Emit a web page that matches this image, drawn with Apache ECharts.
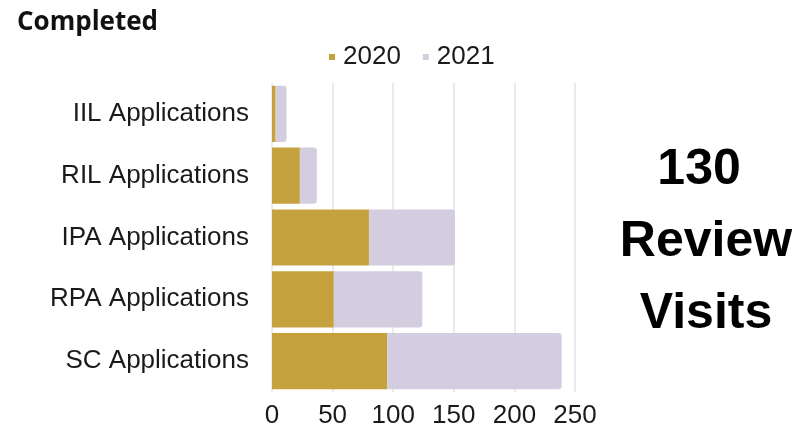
<!DOCTYPE html>
<html>
<head>
<meta charset="utf-8">
<script src="https://cdn.jsdelivr.net/npm/echarts@6/dist/echarts.min.js"></script>
<style>
  html, body { margin: 0; padding: 0; background: #ffffff; }
  #chart { width: 797px; height: 436px; }
</style>
</head>
<body>
<div id="chart"></div>
<script>
// Application counts completed, stacked by year
const categories = ['IIL Applications', 'RIL Applications', 'IPA Applications', 'RPA Applications', 'SC Applications'];
const values2020 = [3, 23, 80, 51, 95];
const values2021 = [9, 14, 71, 73, 144];
const seriesNames = ['2020', '2021'];
const axisTicks = [0, 50, 100, 150, 200, 250];
const reviewVisits = 130;

const chart = echarts.init(document.getElementById('chart'), null, { renderer: 'canvas' });

const labelFont = '"Liberation Sans", Arial, sans-serif';

chart.setOption({
  animation: false,
  backgroundColor: '#ffffff',
  title: {
    text: 'Completed',
    left: 12,
    top: 5,
    textStyle: { fontFamily: '"Open Sans", sans-serif', fontWeight: 'bold', fontSize: 26, color: '#111111' }
  },
  legend: {
    data: seriesNames,
    left: 329,
    top: 44,
    padding: 0,
    icon: 'rect',
    itemWidth: 6,
    itemHeight: 6,
    itemGap: 22,
    textStyle: { fontFamily: labelFont, fontSize: 26, color: '#1a1a1a', padding: [0, 0, 0, 3] }
  },
  grid: { left: 272, right: 222, top: 83, bottom: 44, containLabel: false },
  xAxis: {
    type: 'value',
    min: axisTicks[0],
    max: axisTicks[axisTicks.length - 1],
    interval: axisTicks[1] - axisTicks[0],
    axisLine: { show: false },
    axisTick: { show: false },
    splitLine: { show: true, lineStyle: { color: '#e3e3e6', width: 1.5 } },
    axisLabel: { fontFamily: labelFont, fontSize: 26, color: '#1a1a1a', margin: 11 }
  },
  yAxis: {
    type: 'category',
    data: categories,
    inverse: true,
    axisLine: { show: false },
    axisTick: { show: false },
    axisLabel: { fontFamily: labelFont, fontSize: 26, color: '#1a1a1a', margin: 23 }
  },
  series: [
    {
      name: seriesNames[0],
      type: 'bar',
      stack: 'total',
      data: values2020,
      barCategoryGap: '9%',
      itemStyle: { color: '#c6a23f' }
    },
    {
      name: seriesNames[1],
      type: 'bar',
      stack: 'total',
      data: values2021,
      barCategoryGap: '9%',
      itemStyle: { color: '#d4cde0', borderRadius: [0, 3, 3, 0] }
    }
  ],
  graphic: [
    {
      type: 'text',
      x: 706,
      y: 134,
      style: {
        text: reviewVisits + ' \nReview\nVisits',
        align: 'center',
        verticalAlign: 'top',
        font: 'bold 50px "Liberation Sans", Arial, sans-serif',
        lineHeight: 72,
        fill: '#000000'
      }
    }
  ]
});
</script>
</body>
</html>
